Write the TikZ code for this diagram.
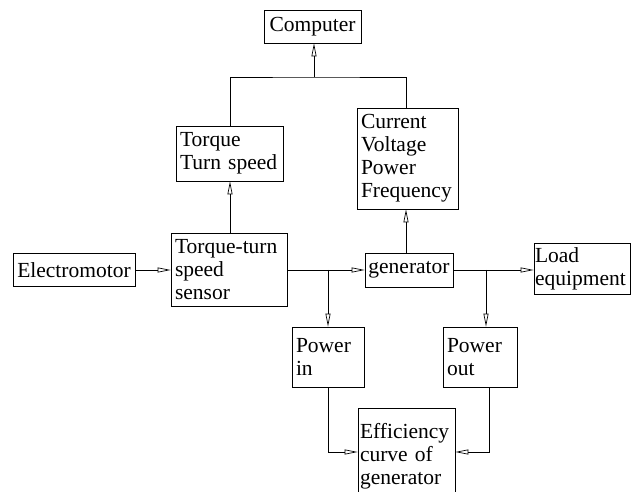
\documentclass[tikz,border=0pt]{standalone}
\usepackage{fontspec}
\setmainfont{Liberation Serif}
\usetikzlibrary{arrows.meta}
\begin{document}
\begin{tikzpicture}[x=1pt,y=1pt,
  box/.style={draw, line width=0.7pt, align=left, inner xsep=4pt, inner ysep=0pt,
    font=\fontsize{21.5}{23}\selectfont, anchor=center},
  wire/.style={line width=0.7pt},
  flow/.style={line width=0.7pt, -{Triangle[open, length=13pt, width=5pt]}}]
\useasboundingbox (0,0) rectangle (638,492);
% blocks
\node[box, minimum width=97pt, minimum height=33pt] (comp) at (312.5,465.5) {Computer};
\node[box, minimum width=107pt, minimum height=55pt, text width=99pt] (tq) at (229.5,338.5) {Torque\\Turn speed};
\node[box, minimum width=101pt, minimum height=101pt, text width=93pt] (cur) at (407.5,333.5) {Current\\Voltage\\Power\\Frequency};
\node[box, minimum width=122pt, minimum height=33pt] (em) at (74,222) {Electromotor};
\node[box, minimum width=116pt, minimum height=73pt, text width=108pt] (sen) at (229,222) {Torque-turn\\speed\\sensor};
\node[box, minimum width=88pt, minimum height=34pt, inner xsep=1pt] (gen) at (409,222) {generator};
\node[box, minimum width=96pt, minimum height=51pt, text width=94pt, inner xsep=1pt] (load) at (582,223.5) {Load\\equipment};
\node[box, minimum width=72pt, minimum height=60pt, text width=64pt] (pin) at (328,135) {Power\\in};
\node[box, minimum width=74pt, minimum height=60pt, text width=66pt] (pout) at (480,135) {Power\\out};
\node[box, minimum width=97pt, minimum height=97pt, text width=93pt, inner xsep=2pt] (eff) at (406.5,35.5) {Efficiency\\curve of\\generator};
% junction points
\coordinate (j1) at (328,222);
\coordinate (j2) at (486,222);
\coordinate (top) at (314,415);
% connectors
\draw[flow] (em) -- (sen);
\draw[flow] (sen) -- (gen);
\draw[flow] (gen) -- (gen.east -| load.west);
\draw[flow] (j1) -- (pin.north);
\draw[flow] (j2) -- (j2 |- pout.north);
\draw[flow] (sen.north -| 230,0) -- (tq.south -| 230,0);
\draw[flow] (gen.north -| 406,0) -- (cur.south -| 406,0);
\draw[wire] (tq.north -| 230,0) |- (top) -| (cur.north -| 406,0);
\draw[flow] (top) -- (comp.south -| top);
\draw[flow] (pin.south) |- (eff.west |- 0,40);
\draw[flow] (pout.south -| 489,0) |- (eff.east |- 0,40);
\end{tikzpicture}
\end{document}
